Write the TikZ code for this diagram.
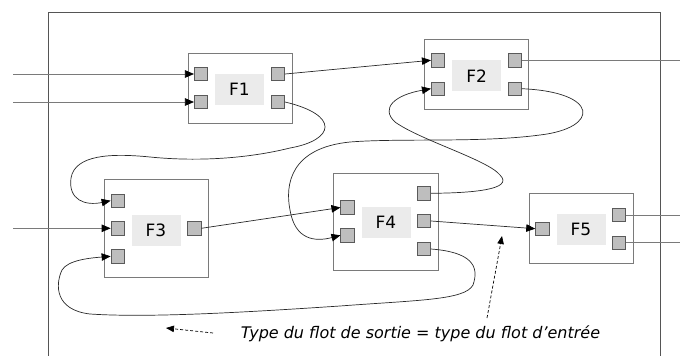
\documentclass[tikz,border=0pt]{standalone}
\usepackage{fontspec}
\setmainfont{DejaVu Sans}
\usetikzlibrary{arrows.meta}
\definecolor{boxline}{HTML}{7A7A7A}
\definecolor{portfill}{HTML}{BEBEBE}
\definecolor{portline}{HTML}{5A5A5A}
\definecolor{lblfill}{HTML}{EBEBEB}
\definecolor{frameline}{HTML}{555555}
\definecolor{wire}{HTML}{2A2A2A}
\begin{document}
\begin{tikzpicture}[x=1pt,y=-1pt,
  block/.style={draw=boxline, line width=0.9pt, fill=white, inner sep=0pt},
  port/.style={draw=portline, fill=portfill, line width=0.8pt, minimum size=13.3pt, inner sep=0pt},
  lbl/.style={fill=lblfill, minimum width=49pt, minimum height=31pt, inner sep=0pt, font=\fontsize{17}{20}\selectfont},
  flow/.style={draw=wire, line width=0.7pt, -{Triangle[length=9pt,width=7.5pt,color=black]}},
  outer/.style={draw=boxline, line width=0.9pt},
  hint/.style={draw=black, line width=0.7pt, dash pattern=on 3pt off 2pt, -{Triangle[length=8pt,width=6.5pt]}}
]
\useasboundingbox (0,0) rectangle (680,356);

% enclosing frame
\draw[frameline, line width=0.9pt] (48,356) -- (48,12) -- (660,12) -- (660,356);

% function blocks
\node[block, minimum width=104pt, minimum height=70pt] (F1) at (240,88) {};
\node[block, minimum width=104pt, minimum height=70pt] (F2) at (476,74) {};
\node[block, minimum width=104pt, minimum height=98pt] (F3) at (156,228) {};
\node[block, minimum width=105pt, minimum height=97pt] (F4) at (385.5,221.5) {};
\node[block, minimum width=104pt, minimum height=70pt] (F5) at (581,228) {};

% block names
\node[lbl] (L1) at (239.5,89.7) {F1};
\node[lbl] (L2) at (476.7,75.7) {F2};
\node[lbl] (L3) at (156,230) {F3};
\node[lbl] (L4) at (386,222.5) {F4};
\node[lbl] (L5) at (581,229.7) {F5};

% ports
\node[port] (F1i1) at (201,74) {};
\node[port] (F1i2) at (201,102) {};
\node[port] (F1o1) at (278,74) {};
\node[port] (F1o2) at (278,102) {};

\node[port] (F2i1) at (438,60.3) {};
\node[port] (F2i2) at (438,88.7) {};
\node[port] (F2o1) at (514.7,60.3) {};
\node[port] (F2o2) at (514.7,88.7) {};

\node[port] (F3i1) at (117.7,200.7) {};
\node[port] (F3i2) at (117.7,228.3) {};
\node[port] (F3i3) at (117.7,256.3) {};
\node[port] (F3o1) at (194.3,228.3) {};

\node[port] (F4i1) at (347.5,207.5) {};
\node[port] (F4i2) at (347.5,235.3) {};
\node[port] (F4o1) at (424,193.3) {};
\node[port] (F4o2) at (424,221) {};
\node[port] (F4o3) at (424,249) {};

\node[port] (F5i1) at (542.3,228.7) {};
\node[port] (F5o1) at (619,215) {};
\node[port] (F5o2) at (619,242.7) {};

% external ends
\coordinate (ext1) at (13,74);
\coordinate (ext2) at (13,102);
\coordinate (ext3) at (13,228.3);
\coordinate (out1) at (680,60.3);
\coordinate (out2) at (680,215);
\coordinate (out3) at (680,242.7);

% incoming and outgoing flows
\draw[flow, draw=boxline] (ext1) -- (F1i1.west);
\draw[flow, draw=boxline] (ext2) -- (F1i2.west);
\draw[flow, draw=boxline] (ext3) -- (F3i2.west);
\draw[outer] (F2o1.east) -- (out1);
\draw[outer] (F5o1.east) -- (out2);
\draw[outer] (F5o2.east) -- (out3);

% straight flows between blocks
\draw[flow] (F1o1.east) -- (F2i1.west);
\draw[flow] (F3o1.east) -- (F4i1.west);
\draw[flow] (F4o2.east) -- (F5i1.west);

% looping flows
\draw[flow] (F1o2.east) .. controls (340,115) and (335,140) .. (290,148)
  .. controls (250,158) and (200,162) .. (150,157)
  .. controls (110,153) and (75,155) .. (71,178)
  .. controls (68,200) and (85,206) .. (F3i1.west);

\draw[flow] (F2o2.east) .. controls (600,92) and (600,128) .. (540,135)
  .. controls (480,143) and (400,138) .. (350,142)
  .. controls (290,148) and (285,185) .. (290,210)
  .. controls (295,240) and (315,242) .. (F4i2.west);

\draw[flow] (F4o1.east) .. controls (470,193) and (515,190) .. (500,175)
  .. controls (488,160) and (420,140) .. (395,122)
  .. controls (380,108) and (395,95) .. (F2i2.west);

\draw[flow] (F4o3.east) .. controls (470,252) and (480,265) .. (473,285)
  .. controls (465,300) and (420,300) .. (340,306)
  .. controls (250,312) and (150,318) .. (90,314)
  .. controls (55,310) and (55,285) .. (62,270)
  .. controls (68,260) and (90,258) .. (F3i3.west);

% annotation
\node[font=\fontsize{16}{19}\selectfont\itshape, inner sep=0pt] (note) at (420.5,333.5) {Type du flot de sortie = type du flot d’entrée};
\coordinate (h1s) at (213,333);
\coordinate (h1e) at (166,328);
\coordinate (h2s) at (487,318);
\coordinate (h2e) at (502,236);
\draw[hint] (h1s) -- (h1e);
\draw[hint] (h2s) -- (h2e);
\end{tikzpicture}
\end{document}
